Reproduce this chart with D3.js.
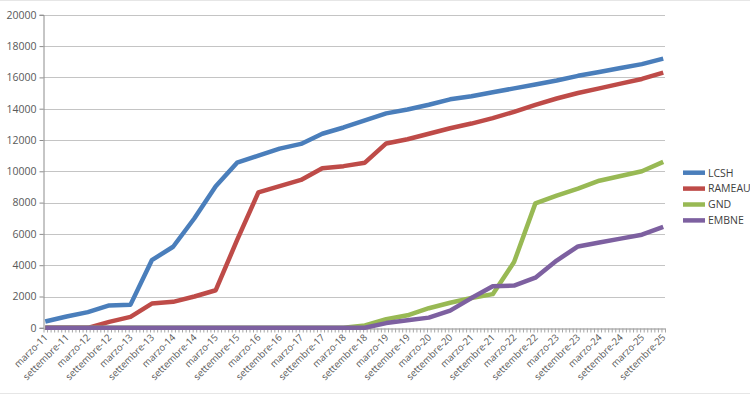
<!DOCTYPE html>
<html><head><meta charset="utf-8">
<script src="https://cdn.jsdelivr.net/npm/d3@7/dist/d3.min.js"></script>
<style>
body{margin:0;background:#fff;}
svg{display:block;}
text{font-family:"Open Sans","Liberation Sans",sans-serif;}
</style></head>
<body>
<svg id="c" width="750" height="394"></svg>
<script>
const categories = ["marzo-11","settembre-11","marzo-12","settembre-12","marzo-13","settembre-13","marzo-14","settembre-14","marzo-15","settembre-15","marzo-16","settembre-16","marzo-17","settembre-17","marzo-18","settembre-18","marzo-19","settembre-19","marzo-20","settembre-20","marzo-21","settembre-21","marzo-22","settembre-22","marzo-23","settembre-23","marzo-24","settembre-24","marzo-25","settembre-25"];
const LCSH   = [400,720,1000,1430,1480,4320,5180,7000,9050,10550,11000,11450,11750,12400,12800,13250,13700,13950,14250,14600,14800,15050,15300,15550,15800,16100,16350,16600,16850,17200];
const RAMEAU = [0,0,0,380,700,1550,1660,2000,2400,5600,8650,9050,9450,10200,10330,10550,11780,12050,12400,12750,13050,13400,13800,14250,14650,15000,15300,15600,15900,16300];
const GND    = [0,0,0,0,0,0,0,0,0,0,0,0,0,0,0,150,550,800,1250,1600,1900,2150,4200,7950,8450,8900,9400,9700,10000,10600];
const EMBNE  = [0,0,0,0,0,0,0,0,0,0,0,0,0,0,0,0,300,480,650,1100,1900,2650,2700,3200,4300,5200,5450,5700,5950,6450];
const seriesNames = ["LCSH","RAMEAU","GND","EMBNE"];
const seriesColors = ["#4a7ebb","#be4b48","#98b954","#7d60a0"];
const yTicks = [0,2000,4000,6000,8000,10000,12000,14000,16000,18000,20000];
const monthsPerCategory = 6;

const series = [LCSH, RAMEAU, GND, EMBNE];
const nMonths = (categories.length - 1) * monthsPerCategory + 1;

const svg = d3.select("#c");
svg.append("line").attr("x1",0).attr("x2",750).attr("y1",0.5).attr("y2",0.5).attr("stroke","#e6e6e6");
svg.append("line").attr("x1",0).attr("x2",750).attr("y1",393.5).attr("y2",393.5).attr("stroke","#e6e6e6");

const x = d3.scaleLinear().domain([-0.5, nMonths - 0.5]).range([43.5, 665]);
const y = d3.scaleLinear().domain([0, 20000]).range([327.8, 14.8]);

// gridlines
svg.append("g").selectAll("line").data(yTicks.filter(d=>d>0)).join("line")
  .attr("x1",43.5).attr("x2",665).attr("y1",d=>Math.round(y(d))+0.5).attr("y2",d=>Math.round(y(d))+0.5)
  .attr("stroke","#c4c4c4").attr("stroke-width",1);

// y axis
const yAxis = svg.append("g").attr("transform","translate(43.5,0)")
  .call(d3.axisLeft(y).tickValues(yTicks).tickSize(4).tickPadding(3).tickFormat(d3.format("d")));
yAxis.select(".domain").attr("stroke","#8c8c8c");
yAxis.selectAll(".tick line").attr("stroke","#8c8c8c");
yAxis.selectAll("text").attr("fill","#595959").style("font-size","10.5px");

// x axis minor ticks (monthly)
const xAxis = svg.append("g").attr("transform","translate(0,"+ (Math.round(y(0))+0.5) +")")
  .call(d3.axisBottom(x).tickValues(d3.range(-0.5, nMonths, 1)).tickSize(4).tickSizeOuter(0).tickFormat(""));
xAxis.select(".domain").attr("stroke","#8c8c8c");
xAxis.selectAll(".tick line").attr("stroke","#a6a6a6");

// x labels
svg.append("g").selectAll("text").data(categories).join("text")
  .attr("transform",(d,i)=>"translate("+(x(i*monthsPerCategory)+3)+",338) rotate(-45)")
  .attr("text-anchor","end")
  .attr("fill","#595959").style("font-size","9.6px")
  .text(d=>d);

// lines
const line = d3.line().x((d,i)=>x(i*monthsPerCategory)).y(d=>y(d));
svg.append("g").selectAll("path").data(series).join("path")
  .attr("d", line).attr("fill","none")
  .attr("stroke",(d,i)=>seriesColors[i]).attr("stroke-width",4.5)
  .attr("stroke-linejoin","round").attr("stroke-linecap","butt");

// legend
const lg = svg.append("g").selectAll("g").data(seriesNames).join("g")
  .attr("transform",(d,i)=>"translate(683,"+(172.7+i*15.9)+")");
lg.append("line").attr("x1",0).attr("x2",22).attr("y1",0).attr("y2",0)
  .attr("stroke",(d,i)=>seriesColors[i]).attr("stroke-width",4.5);
lg.append("text").attr("x",25).attr("y",3.8).attr("fill","#404040").style("font-size","10.5px").text(d=>d);
</script>
</body></html>
